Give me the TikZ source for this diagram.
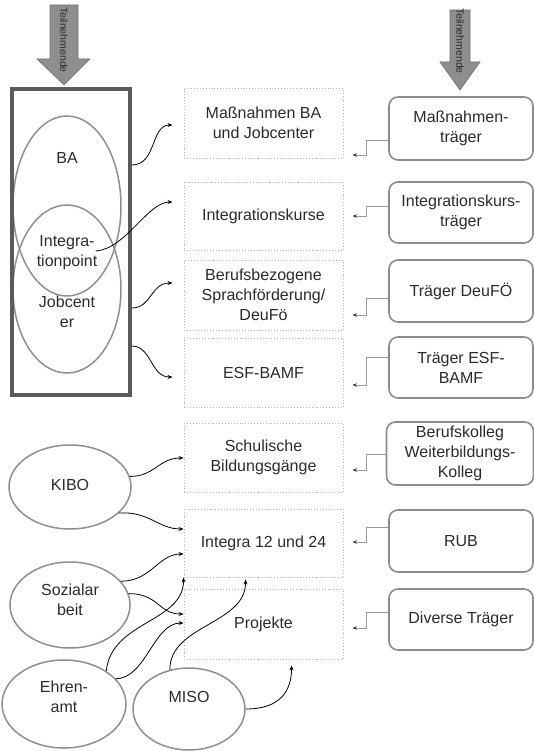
\documentclass[tikz,border=0pt]{standalone}
\usepackage{fontspec}
\setmainfont{Liberation Sans}
\usetikzlibrary{arrows.meta,calc,shapes.geometric}
\definecolor{txt}{HTML}{2B2B2B}
\definecolor{framegray}{HTML}{5B5B5B}
\definecolor{ovalgray}{HTML}{8F8F8F}
\definecolor{midgray}{HTML}{B5B5B5}
\definecolor{boxgray}{HTML}{8C8C8C}
\definecolor{elbowgray}{HTML}{9A9A9A}
\definecolor{arrowgray}{HTML}{8E8E8E}
\begin{document}
\begin{tikzpicture}[x=1pt,y=-1pt,
  every node/.style={font=\fontsize{16}{20}\selectfont, text=txt},
  midbox/.style={draw=midgray, dotted, line width=0.9pt, minimum width=159pt, align=center, inner sep=0pt},
  rbox/.style={draw=boxgray, rounded corners=9pt, line width=1.6pt, minimum width=144pt, align=center, inner sep=0pt},
  oval/.style={ellipse, draw=ovalgray, line width=1.5pt, inner sep=0pt},
  link/.style={-{Stealth[length=5pt,width=4pt]}, line width=0.8pt, draw=black},
  elbow/.style={-{Stealth[length=4.5pt,width=3.5pt,color=black!80]}, line width=0.8pt, draw=elbowgray},
  blockarrow/.style={fill=arrowgray, draw=arrowgray!80!black, line width=0.6pt},
  tn/.style={rotate=-90, font=\fontsize{10.5}{11}\selectfont},
]
\useasboundingbox (0,0) rectangle (534,751);
\fill[white] (0,0) rectangle (534,751);

% block arrows
\draw[blockarrow] (50,5) -- (78,5) -- (78,59) -- (90,59) -- (64,85) -- (37,59) -- (50,59) -- cycle;
\node[tn] (tn1) at (64,40) {Teilnehmende};
\draw[blockarrow] (450,10) -- (470,10) -- (470,62) -- (480,62) -- (460,90) -- (440,62) -- (450,62) -- cycle;
\node[tn] (tn2) at (460,41) {Teilnehmende};

% frame with BA / Jobcenter
\node[oval, minimum width=108pt, minimum height=180pt] (ba) at (67,206) {};
\node[oval, minimum width=108pt, minimum height=168pt] (jc) at (67,289) {};
\node (balabel) at (67,158) {BA};
\node[align=center] (ip) at (67,253) {Integra-\\tionpoint};
\node[align=center] (jclabel) at (67,312) {Jobcent\\er};
\node[draw=framegray, line width=3.5pt, minimum width=118pt, minimum height=306pt, inner sep=0pt] (frame) at (71,242) {};

% middle boxes
\node[midbox, minimum height=70pt] (m1) at (263.5,123) {Maßnahmen BA\\und Jobcenter};
\node[midbox, minimum height=68pt] (m2) at (263.5,216) {Integrationskurse};
\node[midbox, minimum height=70pt] (m3) at (263.5,295) {Berufsbezogene\\Sprachförderung/\\DeuFö};
\node[midbox, minimum height=69pt] (m4) at (263.5,372.5) {ESF-BAMF};
\node[midbox, minimum height=69pt] (m5) at (263.5,457.5) {Schulische\\Bildungsgänge};
\node[midbox, minimum height=68pt] (m6) at (263.5,543) {Integra 12 und 24};
\node[midbox, minimum height=70pt] (m7) at (263.5,624) {Projekte};

% right boxes
\node[rbox, minimum height=63pt] (r1) at (461,128.5) {Maßnahmen-\\träger};
\node[rbox, minimum height=61pt] (r2) at (461,212.5) {Integrationskurs-\\träger};
\node[rbox, minimum height=62pt] (r3) at (461,291) {Träger DeuFÖ};
\node[rbox, minimum height=61pt] (r4) at (461,367.5) {Träger ESF-\\BAMF};
\node[rbox, minimum height=63pt, minimum width=147pt] (r5) at (460,453.5) {Berufskolleg\\Weiterbildungs-\\Kolleg};
\node[rbox, minimum height=62pt] (r6) at (461,541) {RUB};
\node[rbox, minimum height=61pt] (r7) at (461,619.5) {Diverse Träger};

% lower ovals
\node[oval, minimum width=122pt, minimum height=84pt] (kibo) at (70,487) {};
\node (kibolabel) at (70,485) {KIBO};
\node[oval, minimum width=120pt, minimum height=86pt] (soz) at (70,605) {};
\node[align=center] (sozlabel) at (70,600) {Sozialar\\beit};
\node[oval, minimum width=124pt, minimum height=88pt] (ehren) at (64,704) {};
\node[align=center] (ehrenlabel) at (64,697) {Ehren-\\amt};
\node[oval, minimum width=112pt, minimum height=82pt] (miso) at (189,709) {};
\node (misolabel) at (189,697) {MISO};

% elbow connectors
\draw[elbow] (r1.west |- 0,140) -- ++(-22,0) -- ++(0,15) -- ($(m1.east |- 0,155)+(9,0)$);
\draw[elbow] (r2.west |- 0,206) -- ++(-22,0) -- ++(0,10) -- ($(m2.east |- 0,216)+(9,0)$);
\draw[elbow] (r3.west |- 0,298) -- ++(-22,0) -- ++(0,17) -- ($(m3.east |- 0,315)+(9,0)$);
\draw[elbow] (r4.west |- 0,357) -- ++(-22,0) -- ++(0,28) -- ($(m4.east |- 0,385)+(9,0)$);
\draw[elbow] (r5.west |- 0,454) -- ++(-19,0) -- ++(0,16) -- ($(m5.east |- 0,470)+(9,0)$);
\draw[elbow] (r6.west |- 0,527) -- ++(-22,0) -- ++(0,15) -- ($(m6.east |- 0,542)+(9,0)$);
\draw[elbow] (r7.west |- 0,612) -- ++(-22,0) -- ++(0,16) -- ($(m7.east |- 0,628)+(9,0)$);

% upper curved links
\draw[link] (frame.east |- 0,165) .. controls +(25,0) and +(-22,0) .. ($(m1.west |- 0,125)+(-11,0)$);
\draw[link] ($(ip.east)+(-5,-2)$) .. controls +(30,-2) and +(-25,0) .. ($(m2.west |- 0,202)+(-11,0)$);
\draw[link] (frame.east |- 0,308) .. controls +(20,0) and +(-22,0) .. ($(m3.west |- 0,283)+(-11,0)$);
\draw[link] (frame.east |- 0,346) .. controls +(20,0) and +(-22,0) .. ($(m4.west |- 0,377)+(-11,0)$);

% lower curved links
\draw[link] (kibo.10) .. controls +(25,0) and +(-25,0) .. (m5.west |- 0,458);
\draw[link] (kibo.-28) .. controls +(30,-2) and +(-25,0) .. (m6.west |- 0,529);
\draw[link] (soz.25) .. controls +(30,0) and +(-25,0) .. (m6.west |- 0,554);
\draw[link] (soz.11) .. controls +(30,0) and +(-25,0) .. (m7.west |- 0,614);
\draw[link] (ehren.38) .. controls +(5,-50) and +(0,45) .. (m6.south west);
\draw[link] (ehren.26) .. controls +(30,0) and +(-30,0) .. (m7.west |- 0,623);
\draw[link] (miso.116) .. controls +(0,-45) and +(0,45) .. ($(m6.south west)+(62,2)$);
\draw[link] (miso.east) .. controls +(35,0) and +(0,25) .. ($(m7.south west)+(108,6)$);
\end{tikzpicture}
\end{document}
